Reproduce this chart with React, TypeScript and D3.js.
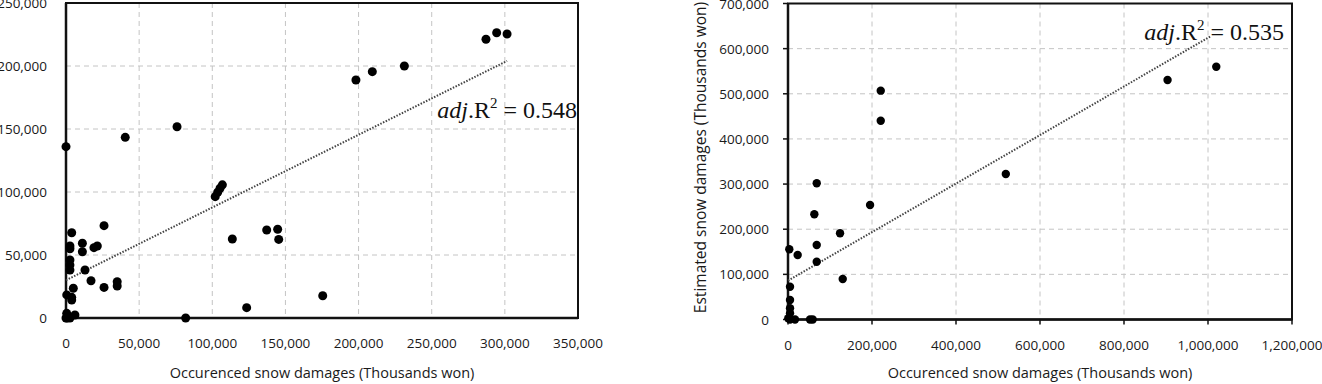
import React from 'react';
import * as d3 from 'd3';

// occurred vs estimated snow damages (thousands won)
const leftOccurred = [
  0, 40500, 75900, 102000, 103700, 105300, 106900, 113700, 137200, 144700, 145400, 123500,
  175500, 81800, 198200, 209400, 231300, 287100, 294400, 301500, 26000, 3900, 2700, 2700,
  2700, 2700, 2700, 11200, 11200, 19100, 21400, 13000, 17100, 26000, 35000, 35000, 5000,
  500, 3900, 3900, 500, 800, 6100, 0, 2700,
];
const leftEstimated = [
  136000, 143400, 151800, 96300, 99800, 103000, 105700, 62700, 69800, 70400, 62400, 8200,
  17700, 0, 188900, 195500, 200000, 221200, 226400, 225400, 73300, 67700, 57100, 55000,
  46000, 42000, 38000, 59300, 52600, 55800, 57100, 38100, 29600, 24300, 28800, 25400, 23600,
  18300, 14300, 16400, 3700, 0, 2400, 0, 0,
];
const rightOccurred = [
  68400, 220800, 220800, 518600, 903700, 1019700, 62700, 195400, 123900, 68400, 68400, 3100,
  23000, 130300, 4800, 4800, 4800, 4800, 4800, 16700, 52400, 58800, 700,
];
const rightEstimated = [
  301700, 506900, 440400, 322300, 530500, 560000, 233000, 253600, 190900, 165000, 128000,
  155500, 142900, 89700, 72700, 43200, 24800, 13700, 0, 0, 0, 0, 2700,
];

// trend line ends [x0, y0, x1, y1]
const leftTrend = [0, 30000, 301500, 204000];
const rightTrend = [0, 86000, 1005000, 626500];

const leftXTicks = [0, 50000, 100000, 150000, 200000, 250000, 300000, 350000];
const leftYTicks = [0, 50000, 100000, 150000, 200000, 250000];
const rightXTicks = [0, 200000, 400000, 600000, 800000, 1000000, 1200000];
const rightYTicks = [0, 100000, 200000, 300000, 400000, 500000, 600000, 700000];

const xTitle = 'Occurenced snow damages (Thousands won)';
const yTitle = 'Estimated snow damages (Thousands won)';

const font = "'Open Sans', sans-serif";
const fmt = d3.format(',');

function Panel({ xs, ys, trend, xTicks, yTicks, left, top, right, bottom, r2, r2x, r2y, ticks, yLabel, r }) {
  const x = d3.scaleLinear().domain([xTicks[0], xTicks[xTicks.length - 1]]).range([left, right]);
  const y = d3.scaleLinear().domain([yTicks[0], yTicks[yTicks.length - 1]]).range([bottom, top]);
  return (
    <g>
      {xTicks.slice(1, -1).map(t => (
        <line key={'gx' + t} x1={x(t)} x2={x(t)} y1={top} y2={bottom} stroke="#c4c4c4" strokeDasharray="5 4" />
      ))}
      {yTicks.slice(1, -1).map(t => (
        <line key={'gy' + t} x1={left} x2={right} y1={y(t)} y2={y(t)} stroke="#c4c4c4" strokeDasharray="5 4" />
      ))}
      <rect x={left} y={top} width={right - left} height={bottom - top} fill="none" stroke="#111" strokeWidth={2} />
      <line x1={left} x2={left} y1={top} y2={bottom} stroke="#111" strokeWidth={2.5} />
      <line x1={left} x2={right} y1={bottom} y2={bottom} stroke="#111" strokeWidth={2.5} />
      {ticks && xTicks.map(t => (
        <line key={'tx' + t} x1={x(t)} x2={x(t)} y1={bottom} y2={bottom + 5} stroke="#111" strokeWidth={1.5} />
      ))}
      {ticks && yTicks.map(t => (
        <line key={'ty' + t} x1={left - 5} x2={left} y1={y(t)} y2={y(t)} stroke="#111" strokeWidth={1.5} />
      ))}
      {xTicks.map(t => (
        <text key={'lx' + t} x={x(t)} y={bottom + 30} textAnchor="middle" fontSize={13.5} fill="#1a1a1a" fontFamily={font}>
          {fmt(t)}
        </text>
      ))}
      {yTicks.map(t => (
        <text key={'ly' + t} x={left - 19} y={y(t) + 5} textAnchor="end" fontSize={13.5} fill="#1a1a1a" fontFamily={font}>
          {fmt(t)}
        </text>
      ))}
      <line
        x1={x(trend[0])} y1={y(trend[1])} x2={x(trend[2])} y2={y(trend[3])}
        stroke="#444" strokeWidth={2} strokeDasharray="1.5 1.5"
      />
      {xs.map((v, i) => (
        <circle key={'p' + i} cx={x(v)} cy={y(ys[i])} r={r} fill="#000" />
      ))}
      <text x={r2x} y={r2y} textAnchor="end" fontSize={24} fill="#111" fontFamily="'Liberation Serif', 'DejaVu Serif', serif">
        <tspan fontStyle="italic">adj</tspan>.R<tspan fontSize={15} dy={-10}>2</tspan>
        <tspan dy={10}>{' = ' + r2}</tspan>
      </text>
      <text x={(left + right) / 2} y={378} textAnchor="middle" fontSize={14.5} fill="#1a1a1a" fontFamily={font}>
        {xTitle}
      </text>
      {yLabel && (
        <text
          transform={`translate(${left - 82},${(top + bottom) / 2 - 4}) rotate(-90)`}
          textAnchor="middle" fontSize={15.5} fill="#1a1a1a" fontFamily={font}
        >
          {yTitle}
        </text>
      )}
    </g>
  );
}

export default function App() {
  return (
    <svg width={1322} height={384} style={{ position: 'absolute', left: 0, top: 0, background: '#fff' }}>
      <Panel
        xs={leftOccurred} ys={leftEstimated} trend={leftTrend}
        xTicks={leftXTicks} yTicks={leftYTicks}
        left={66} top={3} right={578} bottom={318}
        r2="0.548" r2x={577} r2y={118} ticks={false} yLabel={false} r={4.5}
      />
      <Panel
        xs={rightOccurred} ys={rightEstimated} trend={rightTrend}
        xTicks={rightXTicks} yTicks={rightYTicks}
        left={788} top={3.5} right={1292} bottom={319.5}
        r2="0.535" r2x={1284} r2y={40} ticks={true} yLabel={true} r={4.2}
      />
    </svg>
  );
}
